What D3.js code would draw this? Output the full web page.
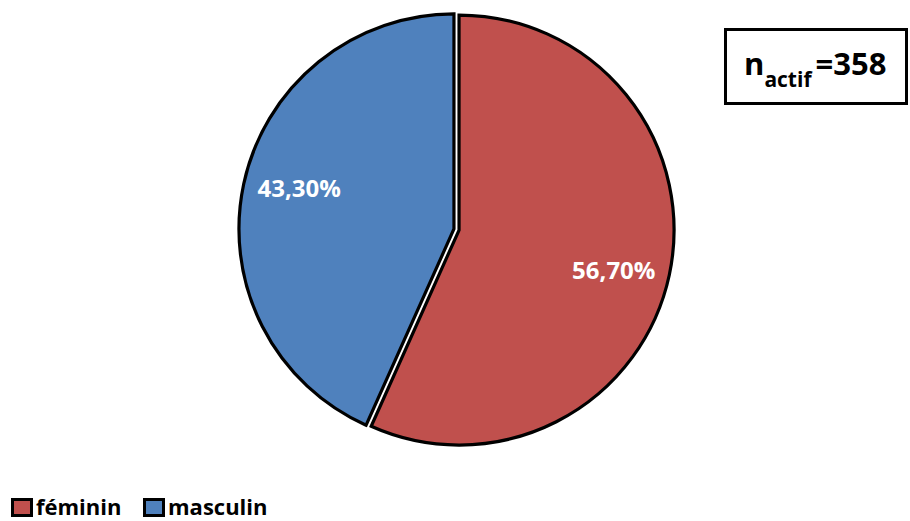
<!DOCTYPE html>
<html>
<head>
<meta charset="utf-8">
<script src="https://cdn.jsdelivr.net/npm/d3@7/dist/d3.min.js"></script>
<style>
  html, body { margin: 0; padding: 0; background: #fff; }
  svg { display: block; }
  text { font-family: "Open Sans", Lato, "Liberation Sans", sans-serif; font-weight: bold; }
</style>
</head>
<body>
<svg id="chart" width="910" height="521"></svg>
<script>
// Répartition par sexe de la population active
const categories = ["féminin", "masculin"];
const values = [56.7, 43.3];
const labels = ["56,70%", "43,30%"];
const colors = ["#C0504D", "#4F81BD"];
const sampleLabel = { main: "n", sub: "actif", value: "=358" };

const svg = d3.select("#chart");

const cx = 456.5, cy = 229.5, radius = 215, explode = 2.6;

const pie = d3.pie().sort(null).value(d => d.value);
const arcs = pie(categories.map((c, i) => ({ name: c, value: values[i], label: labels[i], color: colors[i] })));
const arc = d3.arc().innerRadius(0).outerRadius(radius);

const g = svg.append("g").attr("transform", `translate(${cx},${cy})`);

const slices = g.selectAll("g.slice").data(arcs).join("g")
  .attr("class", "slice")
  .attr("transform", d => {
    const a = (d.startAngle + d.endAngle) / 2;
    return `translate(${Math.sin(a) * explode},${-Math.cos(a) * explode})`;
  });

slices.append("path")
  .attr("d", arc)
  .attr("fill", d => d.data.color)
  .attr("stroke", "#000")
  .attr("stroke-width", 3.2)
  .attr("stroke-linejoin", "miter");

// Étiquettes de pourcentage, placées sur la bissectrice (légèrement décalée)
const labelR = 160, labelTurn = 0.047;
slices.append("text")
  .attr("transform", d => {
    const a = (d.startAngle + d.endAngle) / 2 + labelTurn;
    return `translate(${Math.sin(a) * labelR},${-Math.cos(a) * labelR})`;
  })
  .attr("text-anchor", "middle")
  .attr("dy", "0.36em")
  .attr("fill", "#fff")
  .style("font-size", "24px")
  .text(d => d.data.label);

// Encadré de l'effectif
const box = svg.append("g");
box.append("rect")
  .attr("x", 725.5).attr("y", 29.5)
  .attr("width", 181).attr("height", 74)
  .attr("fill", "#fff").attr("stroke", "#000").attr("stroke-width", 3);
const t = box.append("text").attr("x", 744).attr("y", 75).attr("fill", "#000");
t.append("tspan").style("font-size", "31px").text(sampleLabel.main);
t.append("tspan").attr("dy", 12).style("font-size", "21px").text(sampleLabel.sub);
t.append("tspan").attr("dy", -12).attr("dx", 4).style("font-size", "31px").text(sampleLabel.value);

// Légende
const legend = svg.append("g").attr("transform", "translate(12,499)");
const item = legend.selectAll("g").data(categories).join("g")
  .attr("transform", (d, i) => `translate(${i * 132},0)`);
item.append("rect")
  .attr("x", 0.5).attr("y", 0.5).attr("width", 19).attr("height", 16)
  .attr("fill", (d, i) => colors[i]).attr("stroke", "#000").attr("stroke-width", 3);
item.append("text")
  .attr("x", 24).attr("y", 16)
  .attr("fill", "#000")
  .style("font-size", "22px")
  .text(d => d);
</script>
</body>
</html>
